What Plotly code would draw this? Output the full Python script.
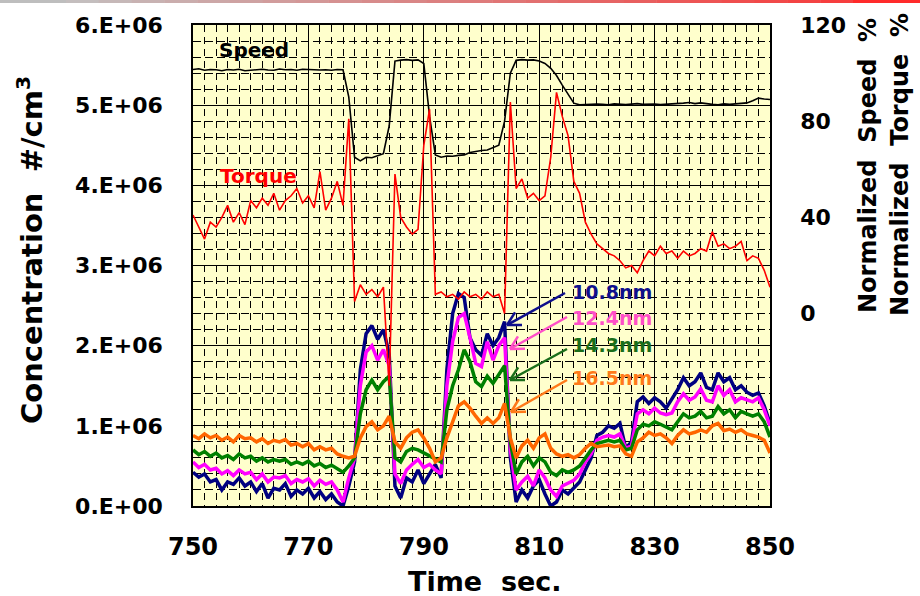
import math
import plotly.graph_objects as go

# ---------------- data ----------------
time_s = list(range(750, 851))  # 1 s sampling

conc_108 = [0.42,0.36,0.40,0.30,0.33,0.20,0.30,0.27,0.35,0.25,
            0.30,0.18,0.28,0.10,0.22,0.20,0.28,0.12,0.20,0.15,
            0.22,0.10,0.18,0.08,0.15,0.05,0.00,0.25,0.55,1.70,
            2.15,2.25,2.08,2.20,1.90,0.25,0.10,0.35,0.30,0.45,
            0.28,0.40,0.52,0.35,1.70,2.40,2.65,2.60,2.10,1.95,
            1.88,2.15,2.00,2.10,2.30,0.60,0.05,0.20,0.10,0.25,
            0.33,0.15,0.00,0.05,0.20,0.15,0.22,0.30,0.45,0.60,
            0.88,0.92,1.00,0.97,1.03,0.72,0.80,1.30,1.36,1.28,
            1.35,1.30,1.22,1.33,1.45,1.60,1.50,1.55,1.66,1.48,
            1.45,1.66,1.55,1.60,1.45,1.50,1.42,1.38,1.41,1.25,
            1.03]
conc_124 = [0.55,0.48,0.52,0.45,0.47,0.40,0.44,0.38,0.45,0.40,
            0.42,0.33,0.40,0.30,0.36,0.35,0.38,0.28,0.33,0.30,
            0.34,0.25,0.32,0.27,0.30,0.20,0.05,0.35,0.60,1.50,
            1.92,2.00,1.82,1.95,1.75,0.40,0.28,0.45,0.52,0.58,
            0.48,0.52,0.45,0.40,1.50,2.05,2.35,2.40,2.10,1.78,
            1.74,2.05,1.82,2.00,2.10,0.70,0.20,0.30,0.37,0.25,
            0.45,0.35,0.20,0.12,0.25,0.28,0.32,0.40,0.55,0.65,
            0.82,0.86,0.88,0.86,0.90,0.72,0.75,1.15,1.20,1.15,
            1.22,1.16,1.14,1.16,1.30,1.40,1.32,1.36,1.46,1.32,
            1.30,1.50,1.38,1.45,1.30,1.35,1.32,1.30,1.35,1.20,
            1.00]
conc_143 = [0.70,0.64,0.68,0.62,0.66,0.60,0.63,0.58,0.65,0.60,
            0.62,0.56,0.60,0.55,0.58,0.56,0.58,0.52,0.55,0.52,
            0.56,0.50,0.53,0.48,0.51,0.47,0.42,0.50,0.60,1.15,
            1.45,1.57,1.45,1.55,1.62,0.60,0.55,0.68,0.72,0.70,
            0.66,0.62,0.58,0.55,1.20,1.50,1.70,1.95,1.80,1.55,
            1.49,1.62,1.53,1.65,1.75,0.80,0.40,0.55,0.62,0.50,
            0.60,0.55,0.42,0.38,0.45,0.42,0.45,0.50,0.60,0.70,
            0.78,0.80,0.82,0.80,0.82,0.70,0.72,0.95,1.02,1.00,
            1.05,1.02,0.98,0.95,1.05,1.15,1.10,1.12,1.18,1.10,
            1.12,1.24,1.15,1.20,1.10,1.18,1.15,1.12,1.15,1.05,
            0.86]
conc_165 = [0.88,0.84,0.90,0.85,0.88,0.82,0.86,0.80,0.88,0.84,
            0.85,0.80,0.84,0.78,0.82,0.80,0.83,0.76,0.78,0.74,
            0.78,0.70,0.74,0.70,0.72,0.65,0.62,0.60,0.62,0.85,
            0.99,1.05,0.95,1.00,1.12,0.80,0.72,0.85,0.92,0.95,
            0.85,0.72,0.55,0.60,0.85,1.05,1.25,1.30,1.22,1.12,
            1.03,1.10,1.03,1.10,1.28,0.85,0.60,0.75,0.82,0.72,
            0.85,0.90,0.72,0.65,0.62,0.64,0.60,0.64,0.72,0.78,
            0.74,0.75,0.76,0.74,0.75,0.65,0.62,0.80,0.85,0.92,
            0.88,0.90,0.85,0.78,0.88,0.95,0.90,0.92,0.95,0.92,
            1.00,1.03,0.94,0.96,0.92,0.95,0.90,0.88,0.86,0.82,
            0.66]

speed_pct = [101.5,101.8,101.2,101.5,101.4,101.0,101.5,101.3,101.6,101.0,
             101.2,101.5,101.6,101.3,101.2,101.7,101.4,101.5,101.2,101.6,
             101.4,101.5,101.3,101.4,101.2,101.5,101.4,90.0,65.0,63.5,
             65.0,64.8,65.5,66.5,78.0,105.0,105.4,105.6,105.3,105.5,
             104.0,82.0,66.0,65.0,65.5,65.4,65.8,66.0,67.0,67.5,
             67.8,68.0,69.0,70.0,80.0,100.0,105.3,105.6,105.4,105.5,
             105.0,104.0,102.0,99.0,95.0,91.0,87.5,86.8,87.0,86.9,
             87.1,87.0,86.8,87.2,87.0,86.9,87.1,87.3,87.0,87.2,
             87.1,86.9,87.0,87.4,87.2,87.5,87.8,87.3,87.6,87.2,
             87.0,86.8,87.2,87.0,87.1,87.4,87.6,88.5,89.6,89.2,
             89.0]
torque_pct = [41,36,31,38,36,40,45,38,42,37,
              47,44,48,45,50,43,47,49,52,46,
              49,44,59,43,48,55,45,81,5,12,
              8,10,7,11,-30,58,40,36,33,35,
              70,85,8,9,7,8,6,9,7,8,
              6,9,7,8,0,88,52,56,48,50,
              47,49,65,92,82,74,55,50,38,33,
              29,27,25,24,22,19,20,17,22,26,
              24,28,25,26,23,26,24,25,27,26,
              34,28,29,27,28,30,22,24,23,18,
              11]

size_labels = ["10.8nm", "12.4nm", "14.3nm", "16.5nm"]
conc_ticks = [0, 1, 2, 3, 4, 5, 6]
conc_tick_text = ["0.E+00", "1.E+06", "2.E+06", "3.E+06", "4.E+06", "5.E+06", "6.E+06"]
pct_ticks = [0, 40, 80, 120]
time_ticks = [750, 770, 790, 810, 830, 850]

# ---------------- styling ----------------
FONT = "DejaVu Sans"
W, H = 920, 596
ML, MR, MT, MB = 193, 150, 25, 90
PW, PH = W - ML - MR, H - MT - MB
XR = [750, 850]
YR = [0, 6]

line_colors = ["#000080", "#FF00FF", "#008000", "#FF6600"]
text_colors = ["#0F0F8C", "#FF4FC8", "#1A6E1A", "#FF7A1A"]

fig = go.Figure()

series = [conc_108, conc_124, conc_143, conc_165]
for name, vals, col in zip(size_labels, series, line_colors):
    fig.add_trace(go.Scatter(x=time_s, y=[v * 1e6 for v in vals], mode="lines",
                             name=name, line=dict(color=col, width=3.5),
                             yaxis="y", showlegend=False))

fig.add_trace(go.Scatter(x=time_s, y=speed_pct, mode="lines", name="Speed",
                         line=dict(color="black", width=1.6), yaxis="y2",
                         showlegend=False))
fig.add_trace(go.Scatter(x=time_s, y=torque_pct, mode="lines", name="Torque",
                         line=dict(color="#FF0000", width=1.6), yaxis="y2",
                         showlegend=False))


def px_to_data(px, py):
    """Pixel position in the page -> (time, concentration) data coordinates."""
    t = XR[0] + (px - ML) / PW * (XR[1] - XR[0])
    c = YR[0] + (MT + PH - py) / PH * (YR[1] - YR[0])
    return t, c * 1e6


shapes = []
annotations = []

# size labels with open-V arrows pointing at the second concentration peak
label_pos = [(570, 292), (570, 318), (570, 345), (570, 378)]
arrow_px = [((565, 293), (507, 325)), ((567, 317), (510, 349)),
            ((567, 349), (510, 380)), ((567, 380), (511, 412))]
for lab, tc, (lx, ly), (tail, head) in zip(size_labels, text_colors, label_pos, arrow_px):
    tx, ty = px_to_data(lx, ly)
    annotations.append(dict(x=tx, y=ty, xref="x", yref="y", text=lab, showarrow=False,
                            xanchor="left", yanchor="middle",
                            font=dict(family=FONT, size=19, color=tc, weight="bold")))
    x0, y0 = px_to_data(*tail)
    x1, y1 = px_to_data(*head)
    shapes.append(dict(type="line", xref="x", yref="y", x0=x0, y0=y0, x1=x1, y1=y1,
                       line=dict(color=tc, width=2.5)))
    dx, dy = tail[0] - head[0], tail[1] - head[1]
    n = math.hypot(dx, dy)
    ux, uy = dx / n, dy / n
    for ang in (0.5, -0.5):
        ca, sa = math.cos(ang), math.sin(ang)
        ex = head[0] + 15 * (ux * ca - uy * sa)
        ey = head[1] + 15 * (ux * sa + uy * ca)
        ax_, ay_ = px_to_data(ex, ey)
        shapes.append(dict(type="line", xref="x", yref="y", x0=x1, y0=y1, x1=ax_, y1=ay_,
                           line=dict(color=tc, width=2.5)))

# Speed / Torque labels
for txt, col, (px, py) in [("Speed", "black", (254, 50)), ("Torque", "#FF0000", (258, 176))]:
    tx, ty = px_to_data(px, py)
    annotations.append(dict(x=tx, y=ty, xref="x", yref="y", text=txt, showarrow=False,
                            xanchor="center", yanchor="middle",
                            font=dict(family=FONT, size=20, color=col, weight="bold")))


def paper_x(px):
    return (px - ML) / PW


def paper_y(py):
    return (MT + PH - py) / PH


NB = "\u00a0"
annotations += [
    dict(x=paper_x(30), y=paper_y(250), xref="paper", yref="paper",
         text=f"Concentration{NB}{NB}#/cm<sup>3</sup>", textangle=-90, showarrow=False,
         xanchor="center", yanchor="middle",
         font=dict(family=FONT, size=29, color="black", weight="bold")),
    dict(x=paper_x(485), y=paper_y(581), xref="paper", yref="paper",
         text=f"Time{NB}{NB}sec.", showarrow=False, xanchor="center", yanchor="middle",
         font=dict(family=FONT, size=27, color="black", weight="bold")),
    dict(x=paper_x(868), y=paper_y(165), xref="paper", yref="paper",
         text=f"Normalized{NB}{NB}Speed{NB}{NB}%", textangle=-90, showarrow=False,
         xanchor="center", yanchor="middle",
         font=dict(family=FONT, size=24, color="black", weight="bold")),
    dict(x=paper_x(900), y=paper_y(165), xref="paper", yref="paper",
         text=f"Normalized{NB}{NB}Torque{NB}{NB}%", textangle=-90, showarrow=False,
         xanchor="center", yanchor="middle",
         font=dict(family=FONT, size=24, color="black", weight="bold")),
]

# thin header strip along the top edge (grey fading into red)
n_seg = 24
shapes.append(dict(type="rect", xref="paper", yref="paper", x0=paper_x(0), x1=paper_x(66),
                   y0=paper_y(3), y1=paper_y(0), line=dict(width=0), fillcolor="#BEBEBE"))
for i in range(n_seg):
    a = i / (n_seg - 1)
    r = int(196 + (246 - 196) * a)
    g = int(190 + (62 - 190) * a)
    b = int(190 + (62 - 190) * a)
    xa = 66 + (853 - 66) * i / n_seg
    xb = 66 + (853 - 66) * (i + 1) / n_seg
    shapes.append(dict(type="rect", xref="paper", yref="paper", x0=paper_x(xa), x1=paper_x(xb + 0.5),
                       y0=paper_y(3), y1=paper_y(0), line=dict(width=0),
                       fillcolor=f"rgb({r},{g},{b})"))
shapes.append(dict(type="rect", xref="paper", yref="paper", x0=paper_x(853), x1=paper_x(920),
                   y0=paper_y(3), y1=paper_y(0), line=dict(width=0), fillcolor="#FF2A2A"))

fig.update_layout(
    width=W, height=H,
    margin=dict(l=ML, r=MR, t=MT, b=MB, pad=0),
    paper_bgcolor="white", plot_bgcolor="#FFFFCC",
    shapes=shapes, annotations=annotations,
    xaxis=dict(range=XR, tickvals=time_ticks, ticks="", showline=True, linecolor="black",
               linewidth=1.5, mirror=True, showgrid=True, gridcolor="black", gridwidth=1,
               zeroline=False, ticklabelstandoff=18,
               tickfont=dict(family=FONT, size=24, color="black", weight="bold"),
               minor=dict(dtick=2, tick0=750, showgrid=True, gridcolor="black",
                          gridwidth=1, griddash="7px,5px")),
    yaxis=dict(range=[YR[0] * 1e6, YR[1] * 1e6], tickvals=[v * 1e6 for v in conc_ticks],
               ticktext=conc_tick_text, ticks="", showline=True, linecolor="black",
               linewidth=1.5, showgrid=True, gridcolor="black", gridwidth=1,
               zeroline=False, ticklabelstandoff=24,
               tickfont=dict(family=FONT, size=22, color="black", weight="bold"),
               minor=dict(dtick=0.2e6, tick0=0, showgrid=True, gridcolor="black",
                          gridwidth=1, griddash="8px,4px")),
    yaxis2=dict(range=[-80, 120], overlaying="y", side="right", tickvals=pct_ticks,
                ticks="", showline=True, linecolor="black", linewidth=1.5,
                showgrid=False, zeroline=False, ticklabelstandoff=24,
                tickfont=dict(family=FONT, size=22, color="black", weight="bold")),
)

fig.write_html("out.html")
